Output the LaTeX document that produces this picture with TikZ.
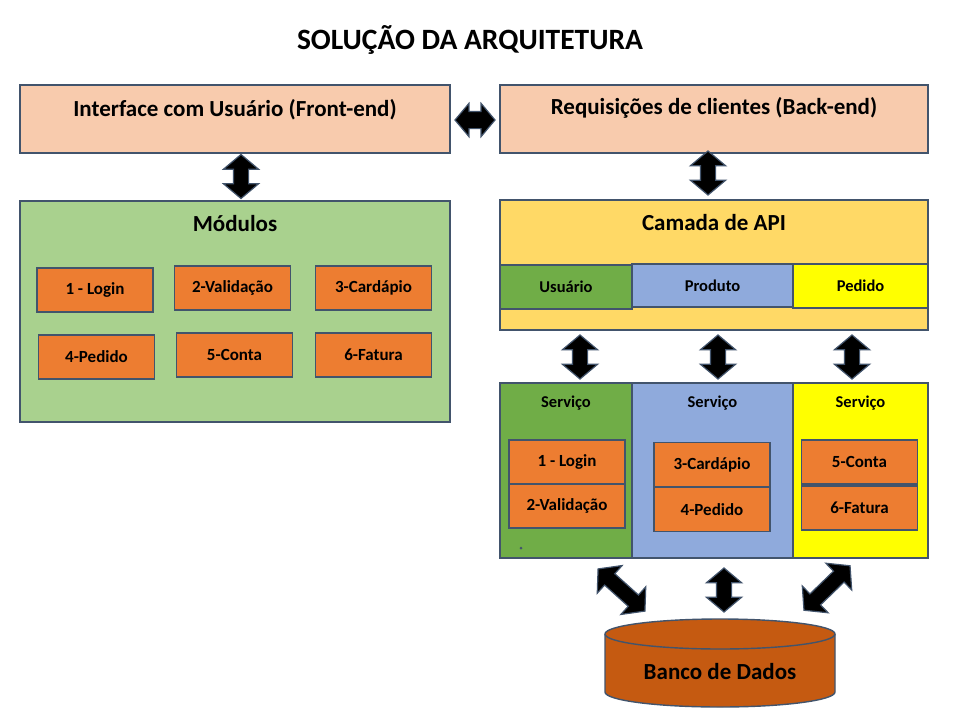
\documentclass[tikz,border=0pt]{standalone}
\usepackage{fontspec}
\setmainfont{Carlito}
\usetikzlibrary{shapes.arrows,calc}
\definecolor{edge}{HTML}{42546C}
\definecolor{peach}{HTML}{F8CBAD}
\definecolor{leaf}{HTML}{A9D18E}
\definecolor{gold}{HTML}{FFD966}
\definecolor{grass}{HTML}{70AD47}
\definecolor{sky}{HTML}{8FAADC}
\definecolor{lemon}{HTML}{FFFF00}
\definecolor{carrot}{HTML}{ED7D31}
\definecolor{rust}{HTML}{C55A11}

\begin{document}
\begin{tikzpicture}[
  x=1pt, y=1pt,
  panel/.style={
    draw=edge, line width=1.6pt, inner sep=0pt
  },
  layer/.style={panel, fill=peach, minimum width=430pt, minimum height=68pt},
  modbox/.style={
    panel, fill=carrot, minimum width=116pt, minimum height=44pt,
    font=\bfseries\fontsize{17}{20}\selectfont
  },
  tab/.style={panel, minimum height=44pt, font=\bfseries\fontsize{16.5}{19}\selectfont},
  bigtxt/.style={font=\bfseries\fontsize{23}{27}\selectfont},
  midtxt/.style={font=\bfseries\fontsize{16.5}{19}\selectfont},
  link/.style={
    double arrow, draw=edge, fill=black, line width=1.2pt,
    inner xsep=0pt, inner ysep=7pt, minimum width=0pt, minimum height=44pt,
    double arrow head extend=10pt, double arrow tip angle=100
  },
  dbshape/.style={draw=edge, line width=1.4pt, fill=rust}
]
  \useasboundingbox[fill=white] (0,0) rectangle (958,-723);
  \node[font=\bfseries\fontsize{29.5}{34}\selectfont] (title) at (470,-40) {SOLUÇÃO DA ARQUITETURA};

  % camadas superiores
  \node[layer] (fe) at (235,-119) {};
  \node[bigtxt] (fetxt) at (235,-110) {Interface com Usuário (Front-end)};
  \node[layer, minimum width=428pt] (be) at (714,-119) {};
  \node[bigtxt] (betxt) at (714,-108) {Requisições de clientes (Back-end)};
  \node[link, inner ysep=8pt, double arrow head extend=8pt, minimum height=40pt] (l1) at (475,-120) {};

  % modulos
  \node[panel, fill=leaf, minimum width=430pt, minimum height=221pt] (mod) at (235,-311.5) {};
  \node[bigtxt] (modtxt) at (235,-224) {Módulos};
  \foreach \n/\x/\y/\t in {m1/95/-290/1 - Login, m2/232.5/-288/2-Validação,
      m3/373.5/-288/3-Cardápio, m4/96.5/-357/4-Pedido,
      m5/234.5/-355/5-Conta, m6/373.5/-355/6-Fatura} {
    \node[modbox] (\n) at (\x,\y) {\t};
  }
  \node[link, rotate=90] (l2) at (241,-176.5) {};

  % camada de API
  \node[panel, fill=gold, minimum width=428pt, minimum height=130pt] (api) at (714,-265) {};
  \node[bigtxt] (apitxt) at (714,-223) {Camada de API};
  \node[tab, fill=grass, minimum width=132pt] (usr) at (566,-287) {Usuário};
  \node[tab, fill=sky, minimum width=161pt, minimum height=43pt] (prd) at (712.5,-285.5) {Produto};
  \node[tab, fill=lemon, minimum width=135pt] (ped) at (860.5,-286) {Pedido};
  \node[link, rotate=90] (l3) at (708,-173) {};

  % servicos
  \node[panel, fill=grass, minimum width=132pt, minimum height=175pt] (sv1) at (566,-470.5) {};
  \node[panel, fill=sky, minimum width=161pt, minimum height=175pt] (sv2) at (712.5,-470.5) {};
  \node[panel, fill=lemon, minimum width=135pt, minimum height=175pt] (sv3) at (860.5,-470.5) {};
  \foreach \n/\x in {sv1/566, sv2/712.5, sv3/860.5} {
    \node[midtxt] (\n txt) at (\x,-403) {Serviço};
  }
  \foreach \n/\x/\y/\t in {s1/567/-462/1 - Login, s2/567/-506/2-Validação,
      s3/712/-464.5/3-Cardápio, s4/712/-509.5/4-Pedido,
      s5/859.5/-462/5-Conta, s6/859.5/-508/6-Fatura} {
    \node[modbox] (\n) at (\x,\y) {\t};
  }
  \fill[edge] (521,-548) circle (1.5);
  \foreach \n/\x in {l4/580, l5/718, l6/852} {
    \node[link, rotate=90] (\n) at (\x,-357) {};
  }

  % banco de dados
  \node[inner sep=0pt, minimum width=230pt, minimum height=88pt] (db) at (720,-663) {};
  \filldraw[dbshape] (605,-634) -- (605,-692)
    arc[start angle=180, end angle=360, x radius=115, y radius=15]
    -- (835,-634) arc[start angle=0, end angle=180, x radius=115, y radius=15] -- cycle;
  \draw[dbshape, fill=none] (605,-634) arc[start angle=180, end angle=360, x radius=115, y radius=15];
  \node[bigtxt] (dbtxt) at (db.center |- 0,-672) {Banco de Dados};
  \node[link, rotate=-42, minimum height=63pt, double arrow head extend=11pt] (l7) at (621.5,-590) {};
  \node[link, rotate=90] (l8) at (724,-590) {};
  \node[link, rotate=44, minimum height=64pt, double arrow head extend=11pt] (l9) at (827,-588) {};
\end{tikzpicture}
\end{document}
